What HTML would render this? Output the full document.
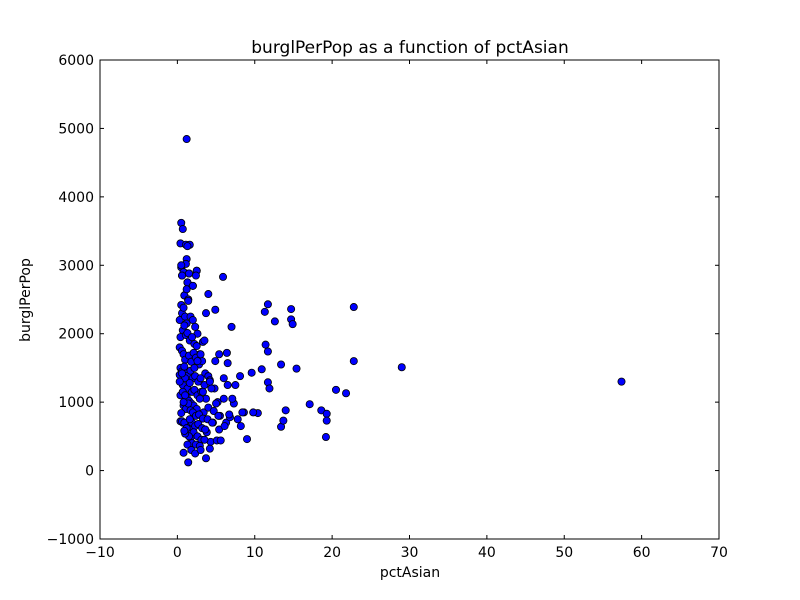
<!DOCTYPE html>
<html><head><meta charset="utf-8"><style>
body{margin:0;background:#fff;}
svg{display:block;font-family:"DejaVu Sans","Liberation Sans",sans-serif;}
</style></head><body>
<svg id="chart" width="800" height="600">
<rect width="800" height="600" fill="#fff"/>
<text x="410" y="53" font-size="17" text-anchor="middle">burglPerPop as a function of pctAsian</text>
<text x="410" y="577" font-size="14" text-anchor="middle">pctAsian</text>
<text x="30" y="300" font-size="14" text-anchor="middle" transform="rotate(-90 30 300)">burglPerPop</text>
<g id="ticks"></g>
<g id="points"></g>
<rect x="100" y="60" width="619" height="479" fill="none" stroke="#000" stroke-width="1"/>
</svg>
<script>
const xTicks=[-10,0,10,20,30,40,50,60,70];
const yTicks=[-1000,0,1000,2000,3000,4000,5000,6000];
const pctAsian=[
1.2,0.5,0.7,0.4,1.1,1.6,1.2,0.5,1.1,0.8,
1.5,0.6,1.3,2.5,2.0,0.9,1.4,5.9,7.0,4.9,
4.0,3.7,11.7,11.3,12.6,14.7,14.7,14.9,22.8,11.4,
11.7,22.8,29.0,57.4,13.4,15.4,10.9,9.6,11.7,11.9,
20.5,21.8,17.1,14.0,18.6,19.3,10.4,13.4,13.7,19.3,
19.2,9.0,
0.8,1.5,0.6,1.3,2.5,2.0,0.9,1.4,1.2,2.4,
0.3,0.5,0.6,0.8,1.0,1.2,1.4,1.7,2.0,2.3,
2.6,0.4,0.7,0.9,1.1,1.3,1.6,1.9,2.2,2.5,
2.9,3.3,0.3,0.6,0.8,1.0,1.5,1.8,2.1,2.4,
2.8,3.2,3.6,4.0,0.4,0.6,0.9,1.2,1.4,1.7,
2.0,2.3,2.7,3.0,3.5,4.2,4.8,0.3,0.5,0.7,
1.0,1.3,1.6,1.9,2.2,2.6,3.1,3.7,4.4,5.2,
6.0,0.4,0.7,0.9,1.2,1.5,1.8,2.1,2.5,2.9,
3.4,4.0,4.7,5.5,6.5,7.3,8.1,0.3,0.6,0.8,
1.1,1.4,1.7,2.0,2.4,2.8,3.3,3.9,4.6,5.3,
6.3,7.8,8.6,0.4,0.7,1.0,1.3,1.6,1.9,2.3,
2.7,3.2,3.8,4.5,5.4,6.8,8.2,9.8,0.5,0.8,
1.1,1.4,1.7,2.1,2.6,3.1,3.6,4.3,5.1,6.1,
8.4,0.6,0.9,1.2,1.5,1.9,2.4,2.9,3.5,4.2,
5.6,6.7,1.0,1.3,1.8,2.3,3.0,3.7,0.8,1.4,
5.4,6.4,4.9,6.0,7.1,6.5,4.2,3.3,5.0,7.5,
0.9,1.6,2.2,3.0,2.6,3.5,1.3,0.5];
const burglPerPop=[
4845,3620,3530,3320,3300,3300,3090,2970,3020,2900,
2880,2850,2750,2920,2700,2560,2500,2830,2100,2350,
2580,2300,2430,2320,2180,2360,2210,2140,2390,1840,
1740,1600,1510,1300,1550,1490,1480,1430,1290,1200,
1180,1130,970,880,880,830,840,640,730,730,
490,460,
2900,2880,2850,2750,2920,2700,2560,2500,2650,2850,
2200,2420,2300,2380,2250,2150,2480,2250,2200,2100,
2000,1950,2050,2120,1980,2010,1900,1950,1850,1820,
1700,1880,1800,1750,1700,1620,1680,1590,1720,1650,
1550,1600,1420,1380,1500,1450,1520,1420,1390,1460,
1350,1380,1300,1350,1250,1320,1200,1400,1300,1250,
1350,1200,1280,1150,1180,1100,1150,1050,1200,1000,
1050,1100,1150,1000,1080,1020,980,950,900,1050,
850,920,870,800,1250,980,1380,1300,1420,950,
900,980,880,850,800,820,760,750,700,800,
700,750,850,720,700,1100,650,600,700,650,
680,620,560,700,600,780,650,850,840,1000,
600,550,480,560,500,450,600,420,440,650,
850,720,700,620,500,400,380,360,450,320,
440,820,540,380,300,250,300,180,260,120,
1700,1720,1600,1350,1050,1570,1300,1150,980,1250,
580,750,1500,1700,1600,1900,3280,3000];
const X=v=>100+(v+10)*619/80, Y=v=>539-(v+1000)*479/7000;
const NS='http://www.w3.org/2000/svg';
const tg=document.getElementById('ticks'), pg=document.getElementById('points');
function mk(t,a,p){const e=document.createElementNS(NS,t);for(const k in a)e.setAttribute(k,a[k]);p.appendChild(e);return e;}
xTicks.forEach(v=>{const x=X(v);
 const l1=mk('line',{x1:x,x2:x,y1:539,y2:535,stroke:'#000'},tg);
 
 
 mk('line',{x1:x,x2:x,y1:60,y2:64,stroke:'#000'},tg);
 const t=mk('text',{x:x,y:557,'font-size':14,'text-anchor':'middle'},tg);t.textContent=v<0?'\u2212'+(-v):v;
 
 });
yTicks.forEach(v=>{const y=Y(v);
 const l1=mk('line',{x1:100,x2:104,y1:y,y2:y,stroke:'#000'},tg);
 
 
 mk('line',{x1:715,x2:719,y1:y,y2:y,stroke:'#000'},tg);
 const t=mk('text',{x:94,y:y+5,'font-size':14,'text-anchor':'end'},tg);t.textContent=v<0?'\u2212'+(-v):v;
 
 });
const n=Math.min(pctAsian.length,burglPerPop.length);
for(let i=0;i<n;i++){const c=mk('circle',{cx:X(pctAsian[i]),cy:Y(burglPerPop[i]),r:3.6,fill:'#0000ff',stroke:'#000','stroke-width':0.8},pg);
 
 }
</script>
</body></html>
